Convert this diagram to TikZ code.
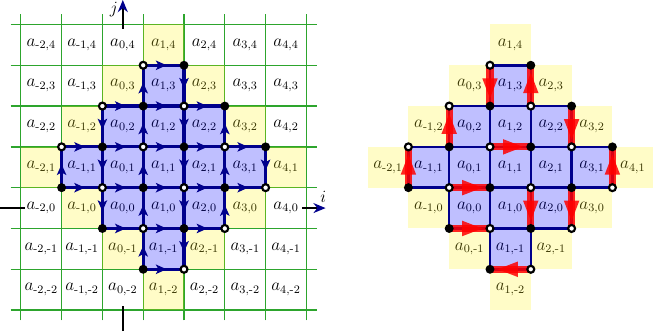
\documentclass[tikz,border=0pt]{standalone}
\usepackage{amsmath}
\usepackage{xcolor}
\usepackage{tikz}
\usetikzlibrary{arrows.meta,decorations.markings}

\definecolor{gridgreen}{RGB}{45,165,45}
\definecolor{pathblue}{RGB}{0,0,140}

\newcommand{\subidx}[1]{\ifnum#1<0 \text{-}\number-#1\else#1\fi}
\def\ringcells{1/4,0/3,2/3,-1/2,3/2,-2/1,4/1,-1/0,3/0,0/-1,2/-1,1/-2}
\def\diamcells{1/3,0/2,1/2,2/2,-1/1,0/1,1/1,2/1,3/1,0/0,1/0,2/0,1/-1}
\def\vrows{0/2/3,1/1/4,2/0/5,3/0/5,4/1/4,5/2/3}
\def\vlinks{0/2/3,1/1/4,2/0/5,3/1/4,4/2/3}

\tikzset{
  celltext/.style={inner sep=1pt, font=\fontsize{11.6}{14}\selectfont},
  gridline/.style={gridgreen, line width=0.9pt},
  axisline/.style={black, line width=1pt},
  axistip/.style={-{Stealth[length=8.5pt,width=7pt,color=pathblue]}},
  ringfill/.style={fill=yellow, fill opacity=0.22},
  diamfill/.style={fill=blue, fill opacity=0.25},
  flowline/.style={pathblue, line width=2.2pt,
    decoration={markings, mark=at position 0.44 with {\fill (3.8pt,0) -- (-3.8pt,3.4pt) -- (-1.9pt,0) -- (-3.8pt,-3.4pt) -- cycle;}},
    postaction={decorate}},
  bondline/.style={pathblue, line width=1.75pt},
  dimer/.style={red, opacity=0.85, line width=5pt,
    decoration={markings, mark=at position 0.565 with {\fill (7pt,0) -- (-7pt,5.4pt) -- (-7pt,-5.4pt) -- cycle;}},
    postaction={decorate}},
  whitedot/.style={draw=black, fill=white, line width=1.5pt},
  blackdot/.style={fill=black},
}

\begin{document}
\begin{tikzpicture}
    \useasboundingbox (-3.01,-3.015) rectangle (13.02,5.1);

    % Labels, full lattice on the left, diamond on the right
    \foreach \i in {-2,...,4}
      \foreach \j in {-2,...,4}
        \node[celltext] (l\i\j) at (\i,\j) {$a_{\subidx{\i},\subidx{\j}}$};
    \foreach \i/\j in \ringcells
      \node[celltext] (r\i\j) at (\i+8.5,\j) {$a_{\subidx{\i},\subidx{\j}}$};
    \foreach \i/\j in \diamcells
      \node[celltext] (r\i\j) at (\i+8.5,\j) {$a_{\subidx{\i},\subidx{\j}}$};

    % Grid
    \foreach \x in {-2.5,-1.5,...,4.5} {
      \draw[gridline] (\x,-2.75) -- (\x,4.75);
      \draw[gridline] (-2.75,\x) -- (4.75,\x);
    }

    % Axes
    \draw[axisline] (-3.01,0) -- (-2.4,0);
    \draw[axisline, axistip] (4.4,0) -- (4.97,0);
    \draw[axisline] (0,-3.015) -- (0,-2.4);
    \draw[axisline, axistip] (0,4.4) -- (0,5.1);
    \node[celltext] (ilabel) at (4.91,0.28) {$i$};
    \node[celltext] (jlabel) at (-0.22,4.87) {$j$};

    % Shaded cells
    \foreach \i/\j in \ringcells {
      \fill[ringfill] (\i-0.5,\j-0.5) rectangle ++(1,1);
      \fill[ringfill] (\i+8,\j-0.5) rectangle ++(1,1);
    }
    \foreach \i/\j in \diamcells {
      \fill[diamfill] (\i-0.5,\j-0.5) rectangle ++(1,1);
      \fill[diamfill] (\i+8,\j-0.5) rectangle ++(1,1);
    }

    % Vertices
    \foreach \r/\cmin/\cmax in \vrows
      \foreach \c in {\cmin,...,\cmax} {
        \coordinate (p\c\r) at (\c-1.5,\r-1.5);
        \coordinate (q\c\r) at (\c+7,\r-1.5);
      }

    % Horizontal links
    \foreach \r/\cmin/\cmax in \vrows {
      \pgfmathtruncatemacro\clast{\cmax-1}
      \foreach \c in {\cmin,...,\clast} {
        \pgfmathtruncatemacro\cnext{\c+1}
        \draw[flowline] (p\c\r) -- (p\cnext\r);
        \draw[bondline] (q\c\r) -- (q\cnext\r);
      }
    }

    % Vertical links
    \foreach \r/\cmin/\cmax in \vlinks {
      \pgfmathtruncatemacro\rnext{\r+1}
      \foreach \c in {\cmin,...,\cmax} {
        \ifodd\c
          \draw[flowline] (p\c\rnext) -- (p\c\r);
        \else
          \draw[flowline] (p\c\r) -- (p\c\rnext);
        \fi
        \draw[bondline] (q\c\r) -- (q\c\rnext);
      }
    }

    % Dimers
    \foreach \s/\t in {25/24,34/35,13/14,44/43,23/33,02/03,52/53,12/22,32/31,42/41,11/21,30/20}
      \draw[dimer] (q\s) -- (q\t);

    % Dots
    \foreach \r/\cmin/\cmax in \vrows
      \foreach \c in {\cmin,...,\cmax} {
        \pgfmathtruncatemacro\csum{\c+\r}
        \ifodd\csum
          \draw[whitedot] (p\c\r) circle (0.085);
          \draw[whitedot] (q\c\r) circle (0.085);
        \else
          \fill[blackdot] (p\c\r) circle (0.11);
          \fill[blackdot] (q\c\r) circle (0.11);
        \fi
      }
\end{tikzpicture}
\end{document}
